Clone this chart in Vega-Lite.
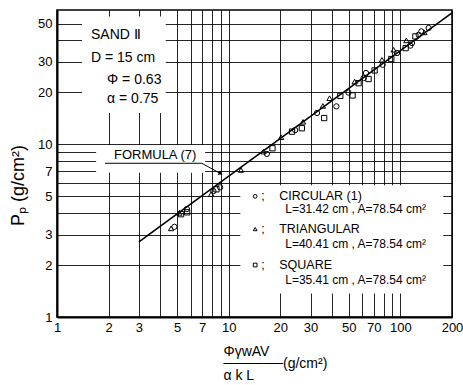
{
  "$schema": "https://vega.github.io/schema/vega-lite/v6.json",
  "width": 395,
  "height": 307,
  "autosize": "none",
  "padding": {"left": 57, "top": 10, "right": 11, "bottom": 68},
  "background": "white",
  "config": {
    "view": {"stroke": "black", "strokeWidth": 1.5},
    "font": "Liberation Sans",
    "text": {"font": "Liberation Sans", "color": "black"}
  },
  "datasets": {
    "boxes": [
      {"x": 1.4, "x2": 4.3, "y": 15.2, "y2": 55},
      {"x": 1.69, "x2": 7.29, "y": 6.85, "y2": 9.9},
      {"x": 11.7, "x2": 178, "y": 1.37, "y2": 5.8}
    ],
    "formula": [
      {"x": 3, "y": 2.72},
      {"x": 200, "y": 57.7}
    ],
    "leader": [
      {"x": 1.905, "y": 7.77},
      {"x": 6.98, "y": 7.77},
      {"x": 8.97, "y": 6.77}
    ],
    "arrow": [
      {"x": 8.97, "y": 6.77}
    ],
    "pts": [
      {"series": "TRIANGULAR", "x": 4.62, "y": 3.26},
      {"series": "CIRCULAR", "x": 4.83, "y": 3.33},
      {"series": "SQUARE", "x": 5.28, "y": 3.94},
      {"series": "TRIANGULAR", "x": 5.17, "y": 4.01},
      {"series": "CIRCULAR", "x": 5.71, "y": 4.22},
      {"series": "SQUARE", "x": 5.73, "y": 4.04},
      {"series": "TRIANGULAR", "x": 7.91, "y": 5.15},
      {"series": "CIRCULAR", "x": 8.15, "y": 5.36},
      {"series": "SQUARE", "x": 8.49, "y": 5.49},
      {"series": "CIRCULAR", "x": 8.92, "y": 5.64},
      {"series": "TRIANGULAR", "x": 11.8, "y": 7.1},
      {"series": "TRIANGULAR", "x": 15.96, "y": 9.07},
      {"series": "CIRCULAR", "x": 16.7, "y": 8.8},
      {"series": "SQUARE", "x": 18.0, "y": 9.49},
      {"series": "TRIANGULAR", "x": 20.2, "y": 11.0},
      {"series": "SQUARE", "x": 23.4, "y": 11.85},
      {"series": "CIRCULAR", "x": 24.4, "y": 12.1},
      {"series": "SQUARE", "x": 26.7, "y": 12.4},
      {"series": "TRIANGULAR", "x": 27.1, "y": 13.5},
      {"series": "CIRCULAR", "x": 32.7, "y": 15.2},
      {"series": "TRIANGULAR", "x": 35.4, "y": 16.7},
      {"series": "SQUARE", "x": 36.0, "y": 14.2},
      {"series": "TRIANGULAR", "x": 38.7, "y": 18.5},
      {"series": "CIRCULAR", "x": 42.4, "y": 16.6},
      {"series": "SQUARE", "x": 44.7, "y": 19.1},
      {"series": "CIRCULAR", "x": 49.9, "y": 19.95},
      {"series": "SQUARE", "x": 52.7, "y": 19.2},
      {"series": "TRIANGULAR", "x": 54.2, "y": 23.1},
      {"series": "SQUARE", "x": 57.1, "y": 22.6},
      {"series": "CIRCULAR", "x": 61.1, "y": 24.2},
      {"series": "CIRCULAR", "x": 63.1, "y": 25.9},
      {"series": "SQUARE", "x": 65.3, "y": 23.9},
      {"series": "SQUARE", "x": 70.8, "y": 26.8},
      {"series": "TRIANGULAR", "x": 78.2, "y": 30.9},
      {"series": "CIRCULAR", "x": 78.9, "y": 28.9},
      {"series": "SQUARE", "x": 88.6, "y": 31.2},
      {"series": "TRIANGULAR", "x": 91.4, "y": 35.3},
      {"series": "CIRCULAR", "x": 95.7, "y": 33.8},
      {"series": "TRIANGULAR", "x": 108.4, "y": 40.0},
      {"series": "SQUARE", "x": 107.4, "y": 36.1},
      {"series": "CIRCULAR", "x": 114.4, "y": 37.3},
      {"series": "CIRCULAR", "x": 117.0, "y": 38.6},
      {"series": "SQUARE", "x": 122.4, "y": 42.2},
      {"series": "CIRCULAR", "x": 127.9, "y": 43.1},
      {"series": "CIRCULAR", "x": 132.5, "y": 45.1},
      {"series": "TRIANGULAR", "x": 138.0, "y": 44.5},
      {"series": "CIRCULAR", "x": 146.2, "y": 47.2}
    ],
    "legsym": [
      {"series": "CIRCULAR", "x": 14.27, "y": 5.0},
      {"series": "TRIANGULAR", "x": 14.27, "y": 3.23},
      {"series": "SQUARE", "x": 14.27, "y": 2.0}
    ],
    "notes": [
      {"kind": "head", "x": 1.578, "y": 43.1, "label": "SAND  Ⅱ"},
      {"kind": "head", "x": 1.578, "y": 31.7, "label": "D = 15 cm"},
      {"kind": "head", "x": 1.957, "y": 23.6, "label": "Φ = 0.63"},
      {"kind": "head", "x": 1.957, "y": 18.3, "label": "α = 0.75"},
      {"kind": "leg", "x": 15.47, "y": 5.0, "label": ";"},
      {"kind": "leg", "x": 19.7, "y": 5.0, "label": "CIRCULAR (1)"},
      {"kind": "leg", "x": 15.47, "y": 3.23, "label": ";"},
      {"kind": "leg", "x": 19.7, "y": 3.23, "label": "TRIANGULAR"},
      {"kind": "leg", "x": 15.47, "y": 2.0, "label": ";"},
      {"kind": "leg", "x": 19.7, "y": 2.0, "label": "SQUARE"},
      {"kind": "spec", "x": 21.35, "y": 4.22, "label": "L=31.42 cm , A=78.54 cm²"},
      {"kind": "spec", "x": 21.35, "y": 2.64, "label": "L=40.41 cm , A=78.54 cm²"},
      {"kind": "spec", "x": 21.35, "y": 1.633, "label": "L=35.41 cm , A=78.54 cm²"},
      {"kind": "formula", "x": 3.73, "y": 8.68, "label": "FORMULA (7)"}
    ]
  },
  "encoding": {
    "x": {
      "field": "x",
      "type": "quantitative",
      "scale": {"type": "log", "domain": [1, 200], "nice": false},
      "axis": {
        "values": [1, 2, 3, 4, 5, 6, 7, 8, 9, 10, 20, 30, 40, 50, 60, 70, 80, 90, 100, 200],
        "labelExpr": "indexof([1,2,3,5,7,10,20,30,50,70,100,200], datum.value) >= 0 ? datum.value + '' : ''",
        "grid": true,
        "gridColor": "black",
        "gridWidth": 1,
        "gridOpacity": 0.85,
        "ticks": false,
        "domainColor": "black",
        "domainWidth": 2,
        "labelFontSize": 13,
        "labelColor": "black",
        "labelFont": "Liberation Sans",
        "labelPadding": 4,
        "labelFlush": false,
        "labelOverlap": false,
        "title": ["ΦγwAV", "──────(g/cm²)", "α k L"],
        "titleFont": "Liberation Sans",
        "titleFontSize": 14,
        "titleFontWeight": "normal",
        "titleColor": "black",
        "titleAlign": "left",
        "titleBaseline": "top",
        "titleX": 166,
        "titleY": 27,
        "titleLineHeight": 12
      }
    },
    "y": {
      "field": "y",
      "type": "quantitative",
      "scale": {"type": "log", "domain": [1, 60], "nice": false},
      "axis": {
        "values": [1, 2, 3, 4, 5, 6, 7, 8, 9, 10, 20, 30, 40, 50],
        "labelExpr": "indexof([1,2,3,5,7,10,20,30,50], datum.value) >= 0 ? datum.value + '' : ''",
        "grid": true,
        "gridColor": "black",
        "gridWidth": 1,
        "gridOpacity": 0.85,
        "ticks": false,
        "domainColor": "black",
        "domainWidth": 2,
        "labelFontSize": 13,
        "labelColor": "black",
        "labelFont": "Liberation Sans",
        "labelPadding": 5,
        "labelFlush": false,
        "labelOverlap": false,
        "title": "Pₚ (g/cm²)",
        "titleFont": "Liberation Sans",
        "titleFontSize": 18,
        "titleFontWeight": "normal",
        "titleColor": "black",
        "titleBaseline": "middle",
        "titleX": -39,
        "titleY": 175
      }
    }
  },
  "layer": [
    {
      "data": {"name": "boxes"},
      "mark": {"type": "rect", "fill": "white", "stroke": null},
      "encoding": {"x2": {"field": "x2"}, "y2": {"field": "y2"}}
    },
    {
      "data": {"name": "formula"},
      "mark": {"type": "line", "color": "black", "strokeWidth": 1.6},
      "encoding": {}
    },
    {
      "data": {"name": "leader"},
      "mark": {"type": "line", "color": "black", "strokeWidth": 1},
      "encoding": {}
    },
    {
      "data": {"name": "arrow"},
      "mark": {"type": "point", "shape": "triangle-right", "angle": 29, "filled": true, "color": "black", "size": 22, "opacity": 1},
      "encoding": {}
    },
    {
      "data": {"name": "pts"},
      "mark": {"type": "point", "filled": false, "color": "black", "strokeWidth": 1, "size": 28, "opacity": 1},
      "encoding": {
        "shape": {
          "field": "series",
          "type": "nominal",
          "scale": {"domain": ["CIRCULAR", "TRIANGULAR", "SQUARE"], "range": ["circle", "triangle-up", "square"]},
          "legend": null
        }
      }
    },
    {
      "data": {"name": "legsym"},
      "mark": {"type": "point", "filled": false, "color": "black", "strokeWidth": 1, "size": 14, "opacity": 1},
      "encoding": {
        "shape": {"field": "series", "type": "nominal", "legend": null}
      }
    },
    {
      "data": {"name": "notes"},
      "transform": [{"filter": "datum.kind == 'head'"}],
      "mark": {"type": "text", "align": "left", "baseline": "middle", "fontSize": 14},
      "encoding": {"text": {"field": "label"}}
    },
    {
      "data": {"name": "notes"},
      "transform": [{"filter": "datum.kind == 'leg'"}],
      "mark": {"type": "text", "align": "left", "baseline": "middle", "fontSize": 12.5},
      "encoding": {"text": {"field": "label"}}
    },
    {
      "data": {"name": "notes"},
      "transform": [{"filter": "datum.kind == 'spec'"}],
      "mark": {"type": "text", "align": "left", "baseline": "middle", "fontSize": 12},
      "encoding": {"text": {"field": "label"}}
    },
    {
      "data": {"name": "notes"},
      "transform": [{"filter": "datum.kind == 'formula'"}],
      "mark": {"type": "text", "align": "center", "baseline": "middle", "fontSize": 13},
      "encoding": {"text": {"field": "label"}}
    }
  ]
}
